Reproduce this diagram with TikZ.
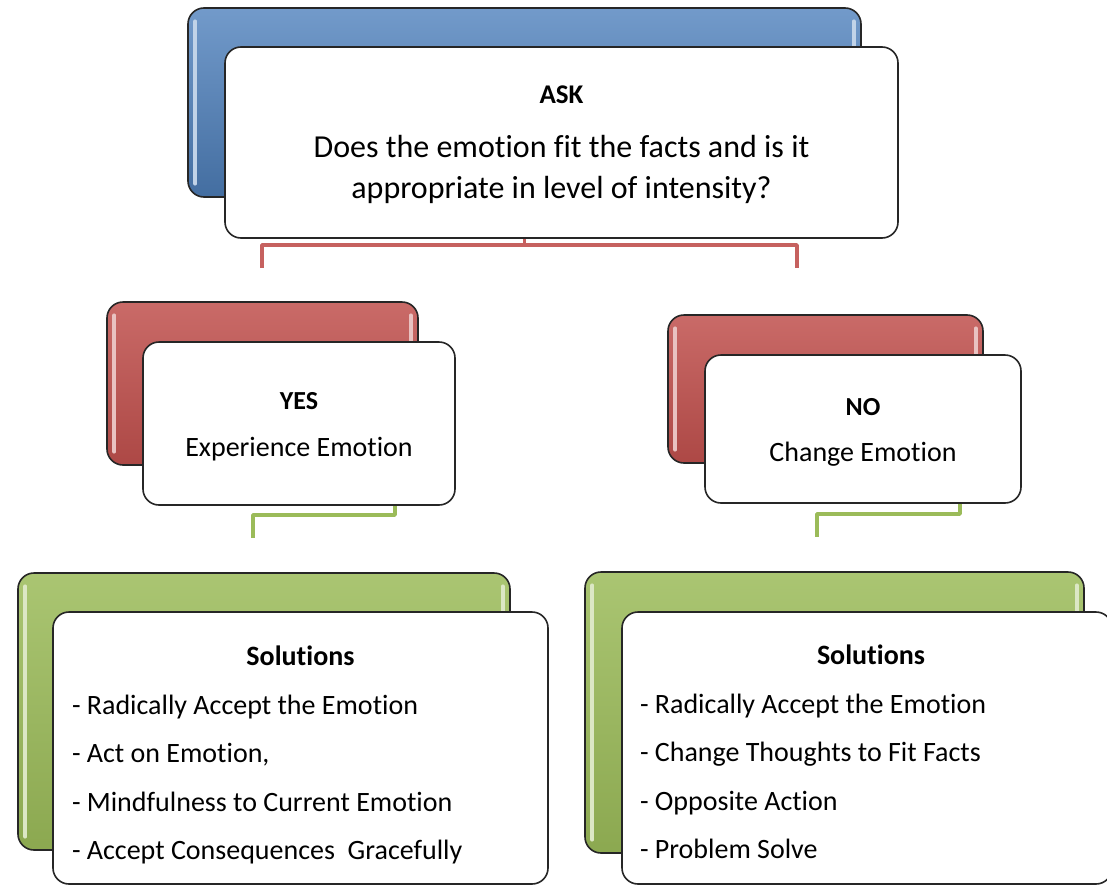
\documentclass[tikz,border=0pt]{standalone}
\usepackage{fontspec}
\setmainfont{Carlito}[Ligatures=NoCommon]
\usetikzlibrary{positioning}
\definecolor{askblue}{RGB}{79,129,189}
\definecolor{yesred}{RGB}{192,80,77}
\definecolor{solgreen}{RGB}{155,187,89}

\begin{document}
\begin{tikzpicture}[x=1pt,y=-1pt,line cap=round,line join=round,
  backbox/.style={draw=black!85,line width=1.6pt,rounded corners=16pt,inner sep=0pt},
  frontbox/.style={draw=black!85,fill=white,line width=1.6pt,rounded corners=16pt,inner sep=0pt},
  glint/.style={line width=3.5pt,draw=#1!35!white},
  redline/.style={line width=3.5pt,draw=yesred!90!white,line cap=butt},
  greenline/.style={line width=3.5pt,draw=solgreen,line cap=butt}]
\useasboundingbox (0,0) rectangle (1107,886);
\clip (0,0) rectangle (1107,886);
% back boxes
\node[backbox,top color=askblue!80!white,bottom color=askblue!85!black,minimum width=673pt,minimum height=189pt] (askback) at (524.5,102.5) {};
\node[backbox,top color=yesred!85!white,bottom color=yesred!90!black,minimum width=311pt,minimum height=163pt] (yesback) at (262.5,383.5) {};
\node[backbox,top color=yesred!85!white,bottom color=yesred!90!black,minimum width=315pt,minimum height=148pt] (noback) at (825.5,389) {};
\node[backbox,top color=solgreen!85!white,bottom color=solgreen!90!black,minimum width=492pt,minimum height=277pt] (yessolback) at (264,711.5) {};
\node[backbox,top color=solgreen!85!white,bottom color=solgreen!90!black,minimum width=499pt,minimum height=281pt] (nosolback) at (834.5,712.5) {};
\draw[glint=askblue] ([xshift=8pt,yshift=-14pt]askback.north west) -- ([xshift=8pt,yshift=14pt]askback.south west);
\draw[glint=askblue] ([xshift=-8pt,yshift=-14pt]askback.north east) -- ([xshift=-8pt,yshift=14pt]askback.south east);
\draw[glint=yesred] ([xshift=8pt,yshift=-14pt]yesback.north west) -- ([xshift=8pt,yshift=14pt]yesback.south west);
\draw[glint=yesred] ([xshift=-8pt,yshift=-14pt]yesback.north east) -- ([xshift=-8pt,yshift=14pt]yesback.south east);
\draw[glint=yesred] ([xshift=8pt,yshift=-14pt]noback.north west) -- ([xshift=8pt,yshift=14pt]noback.south west);
\draw[glint=yesred] ([xshift=-8pt,yshift=-14pt]noback.north east) -- ([xshift=-8pt,yshift=14pt]noback.south east);
\draw[glint=solgreen] ([xshift=8pt,yshift=-14pt]yessolback.north west) -- ([xshift=8pt,yshift=14pt]yessolback.south west);
\draw[glint=solgreen] ([xshift=-8pt,yshift=-14pt]yessolback.north east) -- ([xshift=-8pt,yshift=14pt]yessolback.south east);
\draw[glint=solgreen] ([xshift=8pt,yshift=-14pt]nosolback.north west) -- ([xshift=8pt,yshift=14pt]nosolback.south west);
\draw[glint=solgreen] ([xshift=-8pt,yshift=-14pt]nosolback.north east) -- ([xshift=-8pt,yshift=14pt]nosolback.south east);
% connectors
\coordinate (askfork) at (524.5,245);
\coordinate (yesend) at (262,268);
\coordinate (noend) at (797,268);
\draw[redline] (askback.south) -- (askfork);
\draw[redline] (yesend) |- (askfork) -| (noend);
\coordinate (yesfork) at (395,515);
\coordinate (yessolend) at (253,538);
\draw[greenline] (395,500) -- (yesfork) -| (yessolend);
\coordinate (nofork) at (960,514);
\coordinate (nosolend) at (817,537);
\draw[greenline] (960,500) -- (nofork) -| (nosolend);
% front boxes
\node[frontbox,minimum width=673pt,minimum height=191pt,align=center,font=\fontsize{32}{41}\selectfont] (ask) at (561.5,142.5)
  {\rule{0pt}{23pt}{\fontsize{27}{30}\selectfont\bfseries ASK}\\[13pt]Does the emotion fit the facts and is it\\appropriate in level of intensity?};
\node[frontbox,minimum width=312pt,minimum height=163pt,align=center,font=\fontsize{28}{47}\selectfont] (yes) at (299,423.5)
  {\rule{0pt}{23pt}{\fontsize{26}{28}\selectfont\bfseries YES}\\Experience Emotion};
\node[frontbox,minimum width=316pt,minimum height=148pt,align=center,font=\fontsize{28}{46}\selectfont] (no) at (863,429)
  {\rule{0pt}{23pt}{\fontsize{26}{28}\selectfont\bfseries NO}\\Change Emotion};
\node[frontbox,minimum width=495pt,minimum height=272pt,text width=457pt,align=flush left,font=\fontsize{28}{48.5}\selectfont] (yessol) at (300.5,748)
  {\rule{0pt}{34pt}\makebox[457pt]{\bfseries Solutions}\\- Radically Accept the Emotion\\- Act on Emotion,\\- Mindfulness to Current Emotion\\- Accept Consequences\ \ Gracefully};
\node[frontbox,minimum width=490pt,minimum height=272pt,text width=454pt,align=flush left,font=\fontsize{28}{48.5}\selectfont] (nosol) at (867,748)
  {\rule{0pt}{34pt}\makebox[462pt]{\bfseries Solutions}\\- Radically Accept the Emotion\\- Change Thoughts to Fit Facts\\- Opposite Action\\- Problem Solve\rule[-7pt]{0pt}{1pt}};
\end{tikzpicture}
\end{document}
